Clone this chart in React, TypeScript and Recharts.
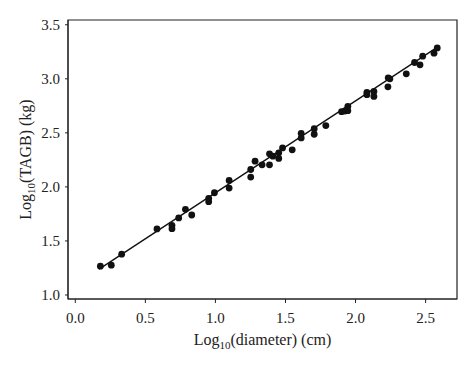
import {
  ReferenceArea,
  Scatter,
  ScatterChart,
  XAxis,
  YAxis,
} from 'recharts'

// log10(diameter) / log10(TAGB)
const diameter = [
  0.179, 0.257, 0.331, 0.583, 0.69, 0.69, 0.738, 0.786, 0.831, 0.952, 0.952,
  0.993, 1.098, 1.098, 1.252, 1.252, 1.283, 1.333, 1.386, 1.386, 1.41, 1.452,
  1.452, 1.479, 1.548, 1.612, 1.612, 1.705, 1.705, 1.788, 1.9, 1.924, 1.945,
  1.945, 2.081, 2.081, 2.131, 2.131, 2.233, 2.245, 2.231, 2.362, 2.421, 2.46,
  2.479, 2.56, 2.583,
]
const tagb = [
  1.267, 1.276, 1.378, 1.611, 1.645, 1.614, 1.713, 1.793, 1.74, 1.894, 1.863,
  1.946, 2.06, 1.989, 2.161, 2.091, 2.238, 2.204, 2.306, 2.204, 2.284, 2.315,
  2.263, 2.361, 2.343, 2.496, 2.453, 2.539, 2.487, 2.567, 2.696, 2.702, 2.745,
  2.705, 2.874, 2.853, 2.883, 2.837, 3.009, 3.0, 2.926, 3.046, 3.151, 3.129,
  3.209, 3.237, 3.286,
]

// fitted line end points
const fitX = [0.17, 2.59]
const fitY = [1.24, 3.298]

const xTicks = [0, 0.5, 1, 1.5, 2, 2.5]
const yTicks = [1, 1.5, 2, 2.5, 3, 3.5]

const xDomain: [number, number] = [-0.052, 2.724]
const yDomain: [number, number] = [0.963, 3.544]

const points = diameter.map((x, i) => ({ x, y: tagb[i] }))
const fit = fitX.map((x, i) => ({ x, y: fitY[i] }))

const font = '"Liberation Serif", "DejaVu Serif", serif'
const ink = '#222'

const Dot = (props: any) => (
  <circle cx={props.cx} cy={props.cy} r={3.4} fill="#111" />
)

const XLabel = (props: any) => {
  const vb = props.viewBox
  return (
    <text
      x={vb.x + vb.width / 2}
      y={vb.y + 46}
      textAnchor="middle"
      fontFamily={font}
      fontSize={16}
      fill={ink}
    >
      Log
      <tspan fontSize={11} dy={4}>
        10
      </tspan>
      <tspan dy={-4}>(diameter) (cm)</tspan>
    </text>
  )
}

const YLabel = (props: any) => {
  const vb = props.viewBox
  const cx = 31
  const cy = vb.y + vb.height / 2
  return (
    <text
      x={cx}
      y={cy}
      textAnchor="middle"
      fontFamily={font}
      fontSize={16}
      fill={ink}
      transform={`rotate(-90 ${cx} ${cy})`}
    >
      Log
      <tspan fontSize={11} dy={4}>
        10
      </tspan>
      <tspan dy={-4}>(TAGB) (kg)</tspan>
    </text>
  )
}

export default function App() {
  return (
    <div style={{ position: 'absolute', left: 0, top: 0, background: '#fff' }}>
      <ScatterChart
        width={474}
        height={369}
        margin={{ top: 20, right: 17, bottom: 0, left: 0 }}
      >
        <XAxis
          type="number"
          dataKey="x"
          domain={xDomain}
          ticks={xTicks}
          tickFormatter={(v) => v.toFixed(1)}
          allowDataOverflow
          height={70}
          tickSize={4}
          tickMargin={9}
          stroke={ink}
          tick={{ fontFamily: font, fontSize: 15, fill: ink }}
          label={<XLabel />}
        />
        <YAxis
          type="number"
          dataKey="y"
          domain={yDomain}
          ticks={yTicks}
          tickFormatter={(v) => v.toFixed(1)}
          allowDataOverflow
          width={68}
          tickSize={3}
          tickMargin={5}
          stroke={ink}
          tick={{ fontFamily: font, fontSize: 15, fill: ink }}
          label={<YLabel />}
        />
        <ReferenceArea
          x1={xDomain[0]}
          x2={xDomain[1]}
          y1={yDomain[0]}
          y2={yDomain[1]}
          fill="none"
          stroke={ink}
          strokeWidth={1.2}
        />
        <Scatter
          data={fit}
          line={{ stroke: '#111', strokeWidth: 1.4 }}
          shape={() => <g />}
          isAnimationActive={false}
        />
        <Scatter data={points} shape={<Dot />} isAnimationActive={false} />
      </ScatterChart>
    </div>
  )
}
